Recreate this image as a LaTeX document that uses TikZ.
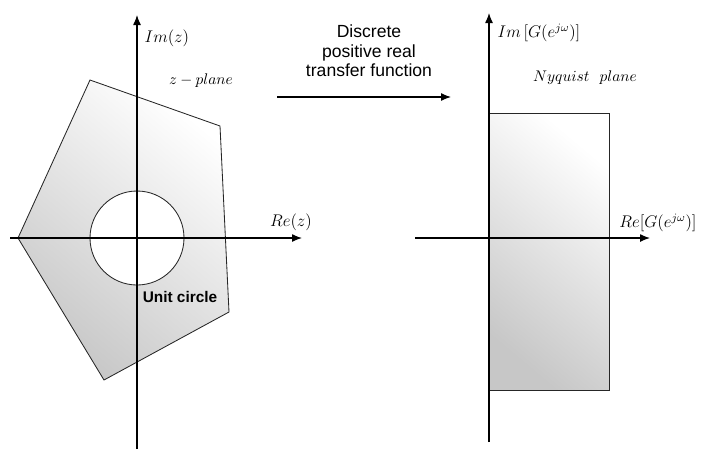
\documentclass[tikz,border=0pt,11pt]{standalone}
\usepackage{fontspec}
\newfontfamily\labelfont{Liberation Sans}
\usetikzlibrary{arrows.meta,positioning}

\begin{document}
\begin{tikzpicture}[
    x=0.025cm, y=-0.025cm,
    axis/.style={line width=0.9pt, -{Latex[length=2.5mm,width=2mm]}},
    region/.style={draw=black!85, line width=0.6pt},
    shadebox/.style={shading=axis, top color=white, bottom color=black!22, shading angle=-40},
    axlabel/.style={font=\large, inner sep=1pt},
    planelabel/.style={font=\normalsize, inner sep=1pt},
    caption/.style={font=\labelfont\fontsize{12.5}{14}\selectfont, align=center}
  ]
    \useasboundingbox (0,0) rectangle (701,450);

    % z-plane
    \coordinate (zxl) at (10,238);
    \coordinate (zxr) at (302,238);
    \coordinate (zyb) at (137,449);
    \coordinate (zyt) at (137,15);
    \shade[shadebox] (18,238) -- (90,80) -- (220,126) -- (229,312) -- (104,380) -- cycle;
    \draw[region] (18,238) -- (90,80) -- (220,126) -- (229,312) -- (104,380) -- cycle;
    \draw[region, fill=white] (137,238) circle[radius=47];
    \draw[axis] (zxl) -- (zxr);
    \draw[axis] (zyb) -- (zyt);

    \node[axlabel, anchor=west] (imz) at (143,38) {$Im(z)$};
    \node[planelabel] (zplane) at (201,81) {$z-plane$};
    \node[axlabel] (rez) at (291,222) {$Re(z)$};
    \node[font=\labelfont\bfseries] (unit) at (180,297) {Unit circle};

    % Mapping
    \node[caption] (map) at (369,51) {Discrete\\positive real\\transfer function};
    \coordinate (mapl) at (277,97);
    \coordinate (mapr) at (451,97);
    \draw[axis] (mapl) -- (mapr);

    % Nyquist plane
    \coordinate (gxl) at (415,238);
    \coordinate (gxr) at (650,238);
    \coordinate (gyb) at (489,442);
    \coordinate (gyt) at (489,13);
    \shade[shadebox] (489,113) rectangle (609,390);
    \draw[region] (489,113) rectangle (609,390);
    \draw[axis] (gxl) -- (gxr);
    \draw[axis] (gyb) -- (gyt);

    \node[axlabel, anchor=west] (img) at (496,33) {$Im\left[G(e^{j\omega})\right]$};
    \node[planelabel] (nyq) at (585,78) {$Nyquist\ \ plane$};
    \node[axlabel] (reg) at (658,223) {$Re[G(e^{j\omega})]$};
\end{tikzpicture}
\end{document}
